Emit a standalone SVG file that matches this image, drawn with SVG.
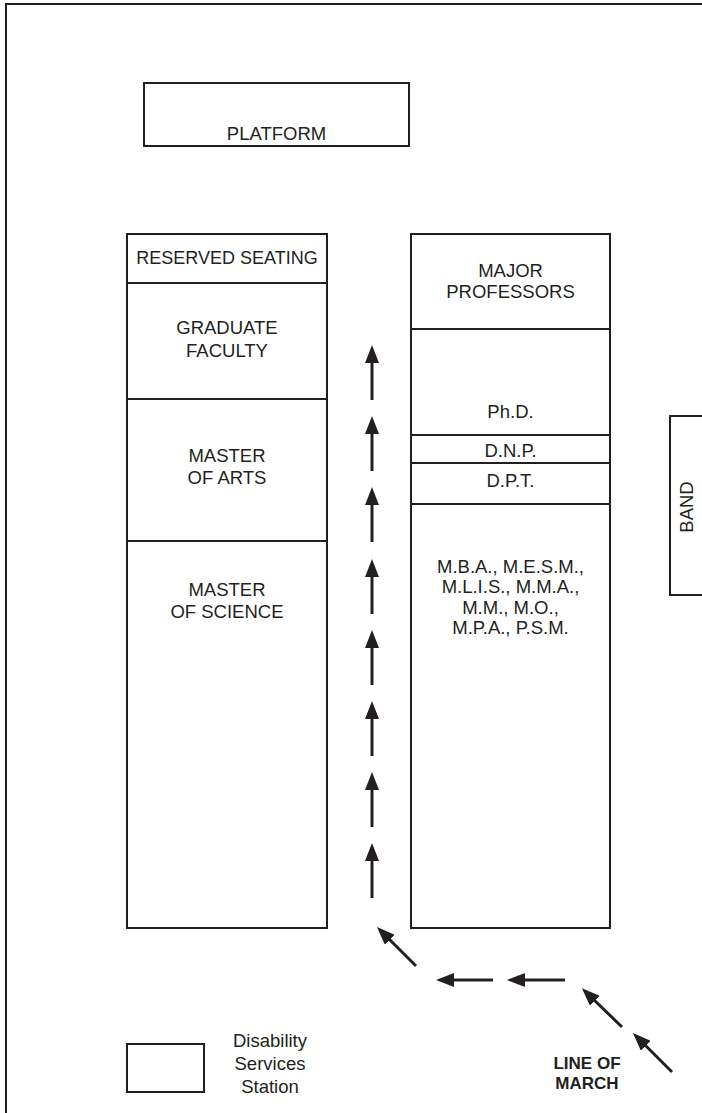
<svg xmlns="http://www.w3.org/2000/svg" width="702" height="1113" viewBox="0 0 702 1113">
<style>
.box{fill:#fff;stroke:#231f20;stroke-width:2}
.ln{stroke:#231f20;stroke-width:2;fill:none}
.t{font-family:"Liberation Sans",Arial,sans-serif;font-size:18.5px;fill:#231f20;text-anchor:middle}
.b{font-family:"Liberation Sans",Arial,sans-serif;font-size:17px;font-weight:bold;fill:#231f20;text-anchor:middle}
.ar{stroke:#231f20;stroke-width:3;fill:none;marker-end:url(#head)}
</style>
<defs>
<marker id="head" viewBox="0 0 18 14" refX="6" refY="7" markerWidth="18" markerHeight="14" markerUnits="userSpaceOnUse" orient="auto">
<path d="M0,0 L18,7 L0,14 z" fill="#231f20"/>
</marker>
</defs>
<rect width="702" height="1113" fill="#fff"/>
<path class="ln" d="M6,1113 V4 H702"/>
<g id="platform">
<rect class="box" x="144" y="83" width="265" height="63"/>
<text class="t" x="276.5" y="140">PLATFORM</text>
</g>
<g id="left-column">
<rect class="box" x="127" y="234" width="200" height="694"/>
<line class="ln" x1="127" y1="283" x2="327" y2="283"/>
<line class="ln" x1="127" y1="399" x2="327" y2="399"/>
<line class="ln" x1="127" y1="541" x2="327" y2="541"/>
</g>
<g id="reserved-seating"><text class="t" x="227" y="264" style="font-size:18px">RESERVED SEATING</text></g>
<g id="graduate-faculty"><text class="t" x="227" y="334">GRADUATE</text><text class="t" x="227" y="357">FACULTY</text></g>
<g id="master-of-arts"><text class="t" x="227" y="462">MASTER</text><text class="t" x="227" y="484">OF ARTS</text></g>
<g id="master-of-science"><text class="t" x="227" y="596">MASTER</text><text class="t" x="227" y="618">OF SCIENCE</text></g>
<g id="right-column">
<rect class="box" x="411" y="234" width="199" height="694"/>
<line class="ln" x1="411" y1="329" x2="610" y2="329"/>
<line class="ln" x1="411" y1="435" x2="610" y2="435"/>
<line class="ln" x1="411" y1="463" x2="610" y2="463"/>
<line class="ln" x1="411" y1="504" x2="610" y2="504"/>
</g>
<g id="major-professors"><text class="t" x="510.5" y="277">MAJOR</text><text class="t" x="510.5" y="298">PROFESSORS</text></g>
<g id="phd"><text class="t" x="510.5" y="418">Ph.D.</text></g>
<g id="dnp"><text class="t" x="510.5" y="457">D.N.P.</text></g>
<g id="dpt"><text class="t" x="510.5" y="487">D.P.T.</text></g>
<g id="masters">
<text class="t" x="510.5" y="573">M.B.A., M.E.S.M.,</text>
<text class="t" x="510.5" y="593">M.L.I.S., M.M.A.,</text>
<text class="t" x="510.5" y="614">M.M., M.O.,</text>
<text class="t" x="510.5" y="634">M.P.A., P.S.M.</text>
</g>
<g id="band">
<rect class="box" x="670" y="416" width="40" height="179"/>
<text class="t" transform="translate(693,507) rotate(-90)" x="0" y="0">BAND</text>
</g>
<g id="disability-station">
<rect class="box" x="127" y="1044" width="77" height="48"/>
<text class="t" x="270" y="1047">Disability</text>
<text class="t" x="270" y="1070">Services</text>
<text class="t" x="270" y="1093">Station</text>
</g>
<g id="line-of-march-label">
<text class="b" x="587" y="1069">LINE OF</text>
<text class="b" x="587" y="1089">MARCH</text>
</g>
<g id="connectors">
<line class="ar" x1="372" y1="400" x2="372" y2="357"/>
<line class="ar" x1="372" y1="471" x2="372" y2="428"/>
<line class="ar" x1="372" y1="542" x2="372" y2="499"/>
<line class="ar" x1="372" y1="614" x2="372" y2="571"/>
<line class="ar" x1="372" y1="685" x2="372" y2="642"/>
<line class="ar" x1="372" y1="756" x2="372" y2="713"/>
<line class="ar" x1="372" y1="827" x2="372" y2="784"/>
<line class="ar" x1="372" y1="898" x2="372" y2="855"/>
<line class="ar" x1="416" y1="966" x2="385.5" y2="935.5"/>
<line class="ar" x1="493" y1="980" x2="448" y2="980"/>
<line class="ar" x1="565" y1="980" x2="519" y2="980"/>
<line class="ar" x1="622" y1="1027" x2="590.5" y2="996.5"/>
<line class="ar" x1="672" y1="1072" x2="641.5" y2="1041.5"/>
</g>
</svg>
